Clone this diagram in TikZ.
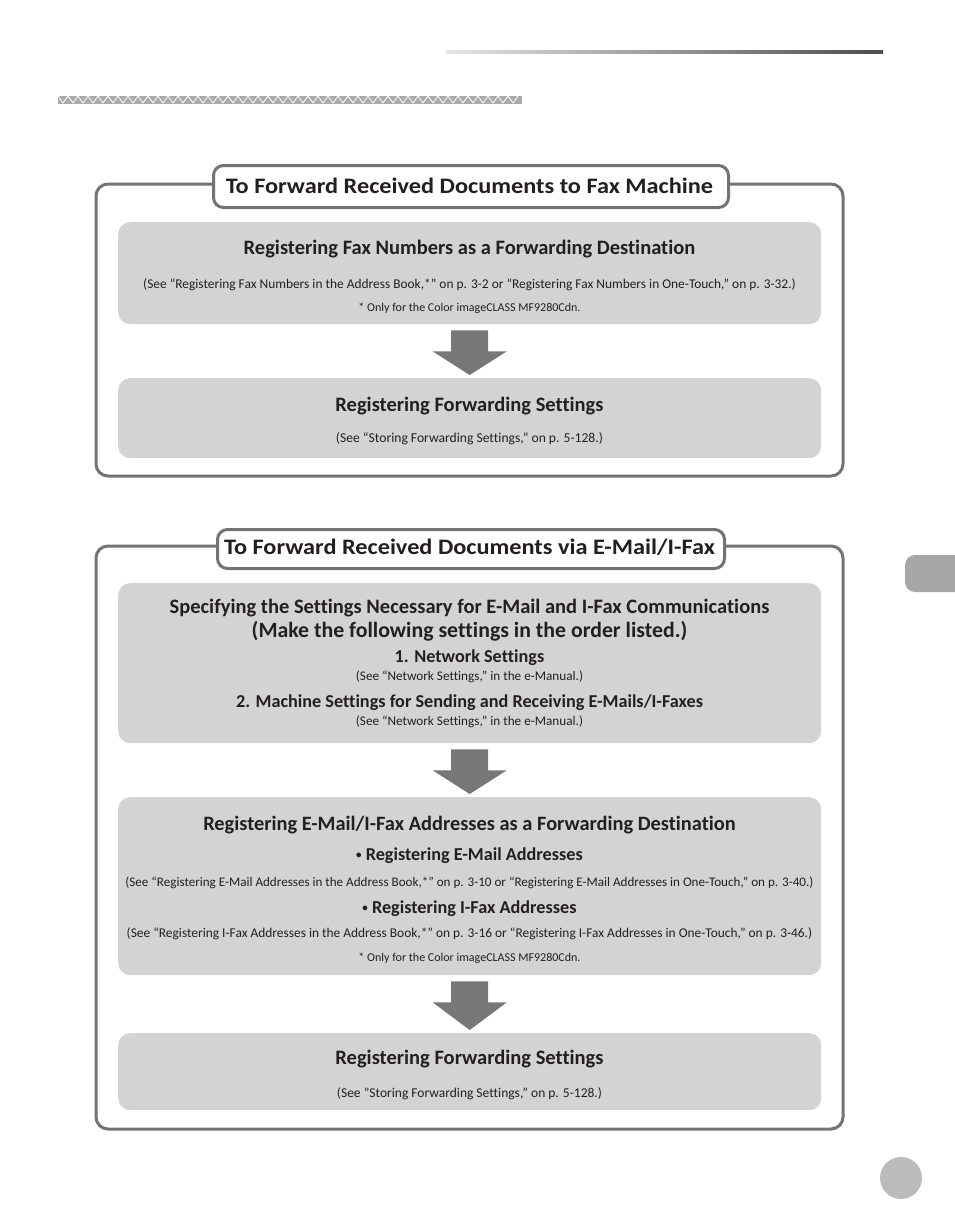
\documentclass[tikz,border=0pt]{standalone}
\usepackage{fontspec}
\setmainfont{Carlito}[Ligatures=NoCommon]
\newfontfamily\titlefont{Carlito}[Ligatures=NoCommon,FakeStretch=1.1]
\usetikzlibrary{calc}
\definecolor{framegrey}{HTML}{737373}
\definecolor{boxgrey}{HTML}{D3D3D3}
\definecolor{arrowgrey}{HTML}{777777}
\definecolor{ink}{HTML}{231F20}
\definecolor{tabgrey}{HTML}{A7A7A7}
\definecolor{dotgrey}{HTML}{BBBBBB}
\definecolor{bandgrey}{HTML}{AAAAAA}
\newcommand\fs[1]{\fontsize{#1}{#1}\selectfont}
\newcommand\smallbullet{{\fontsize{11}{11}\selectfont\raisebox{2pt}{•}}}
\newcommand\flowarrow[2]{%
  \fill[arrowgrey] ($(#1.south)+(-18.5,6)$) -- ($(#1.south)+(18.5,6)$) -- ($(#1.south)+(18.5,27)$) -- ($(#1.south)+(37,27)$) -- ($(#2.north)+(0,-3)$) -- ($(#1.south)+(-37,27)$) -- ($(#1.south)+(-18.5,27)$) -- cycle;}
\begin{document}
\begin{tikzpicture}[x=1pt,y=-1pt,
  frame/.style={draw=framegrey,line width=3pt,rounded corners=12pt},
  tab/.style={draw=framegrey,line width=3pt,fill=white,rounded corners=10pt,inner sep=0pt,anchor=north west},
  panel/.style={fill=boxgrey,rounded corners=12pt,inner sep=0pt,anchor=north west,minimum width=703pt},
  ttl/.style={font=\titlefont\fs{22.1}\bfseries,text=ink,inner sep=0pt,anchor=base},
  tb/.style={font=\fs{#1}\bfseries,text=ink,inner sep=0pt,anchor=base},
  tr/.style={font=\fs{#1},text=ink,inner sep=0pt,anchor=base}]
\useasboundingbox (0,0) rectangle (954,1227);
% top rule
\shade[left color=black!10,right color=black!70] (446,50) rectangle (883,53);
% decorative band
\fill[bandgrey] (58,96) rectangle (522,104);
\draw[white,line width=0.8pt] (58,96) \foreach \i in {0,...,45} { -- ({58+\i*10+5},103) -- ({58+\i*10+10},96)};
% side tab and page dot
\fill[tabgrey,rounded corners=10pt] (905,555) rectangle (970,592);
\fill[dotgrey] (901,1178) circle (21);

% ===== box 1 =====
\draw[frame] (96,184) rectangle (843,476);
\node[tab,minimum width=515pt,minimum height=42pt] (t1) at (212,164) {};
\node[ttl] (t1txt) at (469.5,193) {To Forward Received Documents to Fax Machine};
\node[panel,minimum height=102pt] (p1) at (118,222) {};
\node[panel,minimum height=80pt] (p2) at (118,378) {};
\node[tb=20.5] (p1a) at (469.5,254) {Registering Fax Numbers as a Forwarding Destination};
\node[tr=13.4] (p1b) at (469.5,288) {(See “Registering Fax Numbers in the Address Book,*” on p. 3-2 or “Registering Fax Numbers in One-Touch,” on p. 3-32.)};
\node[tr=12] (p1c) at (469.5,311) {* Only for the Color imageCLASS MF9280Cdn.};
\node[tb=20.5] (p2a) at (469.5,411) {Registering Forwarding Settings};
\node[tr=13.6] (p2b) at (469.5,442) {(See “Storing Forwarding Settings,” on p. 5-128.)};
\flowarrow{p1}{p2}

% ===== box 2 =====
\draw[frame] (96,546) rectangle (843,1129);
\node[tab,minimum width=507pt,minimum height=39pt] (t2) at (216,528) {};
\node[ttl] (t2txt) at (469.5,554) {To Forward Received Documents via E-Mail/I-Fax};
\node[panel,minimum height=160pt] (q1) at (118,583) {};
\node[panel,minimum height=178pt] (q2) at (118,797) {};
\node[panel,minimum height=77pt] (q3) at (118,1033) {};
\node[tb=20.5] (q1a) at (469.5,613) {Specifying the Settings Necessary for E-Mail and I-Fax Communications};
\node[tb=21.8] (q1b) at (469.5,637) {(Make the following settings in the order listed.)};
\node[tb=18.2] (q1c) at (469.5,662) {1. Network Settings};
\node[tr=13.2] (q1d) at (469.5,680.5) {(See “Network Settings,” in the e-Manual.)};
\node[tb=18.2] (q1e) at (469.5,707) {2. Machine Settings for Sending and Receiving E-Mails/I-Faxes};
\node[tr=13.2] (q1f) at (469.5,725.5) {(See “Network Settings,” in the e-Manual.)};
\node[tb=20.4] (q2a) at (469.5,830) {Registering E-Mail/I-Fax Addresses as a Forwarding Destination};
\node[tb=18.2] (q2b) at (469.5,860.5) {\smallbullet\ Registering E-Mail Addresses};
\node[tr=13.1] (q2c) at (469.5,886.5) {(See “Registering E-Mail Addresses in the Address Book,*” on p. 3-10 or “Registering E-Mail Addresses in One-Touch,” on p. 3-40.)};
\node[tb=18.2] (q2d) at (469.5,913) {\smallbullet\ Registering I-Fax Addresses};
\node[tr=13.4] (q2e) at (469.5,937) {(See “Registering I-Fax Addresses in the Address Book,*” on p. 3-16 or “Registering I-Fax Addresses in One-Touch,” on p. 3-46.)};
\node[tr=12] (q2f) at (469.5,961) {* Only for the Color imageCLASS MF9280Cdn.};
\node[tb=20.5] (q3a) at (469.5,1064) {Registering Forwarding Settings};
\node[tr=13.5] (q3b) at (469.5,1097.5) {(See "Storing Forwarding Settings," on p. 5-128.)};
\flowarrow{q1}{q2}
\flowarrow{q2}{q3}
\end{tikzpicture}
\end{document}
